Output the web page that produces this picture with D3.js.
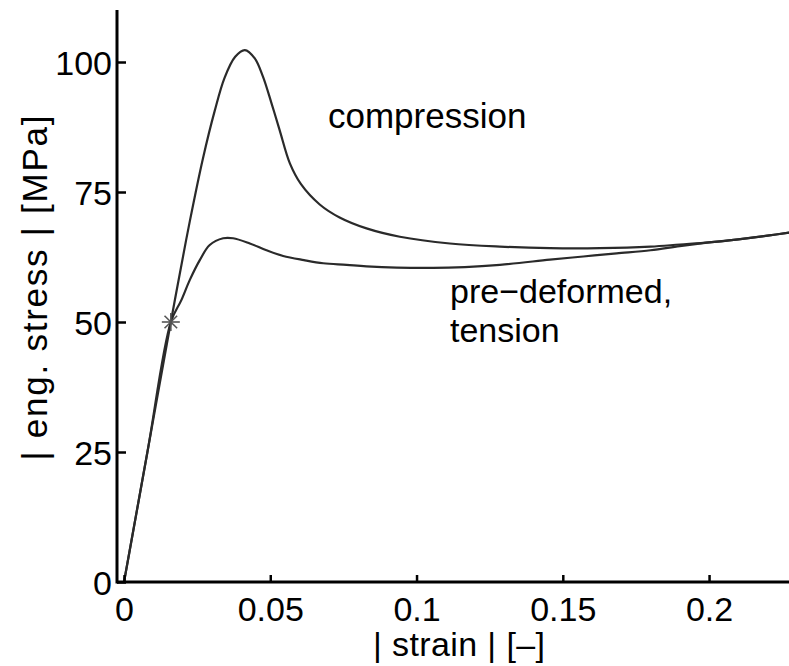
<!DOCTYPE html>
<html><head><meta charset="utf-8">
<script src="https://cdn.jsdelivr.net/npm/d3@7"></script>
<style>
html,body{margin:0;padding:0;background:#fff;}
svg{display:block;font-family:"Liberation Sans",Arial,Helvetica,sans-serif;}
</style></head>
<body><svg id="chart" width="789" height="666"></svg>
<script>
// strain values and engineering stress [MPa]
const compressionStrain = [0, 0.008, 0.016, 0.0185, 0.0225, 0.027, 0.031, 0.0344, 0.038, 0.0413, 0.0447, 0.0475, 0.0504, 0.0532, 0.0567, 0.0605, 0.0669, 0.0737, 0.0829, 0.0943, 0.1114, 0.1285, 0.1456, 0.1627, 0.18, 0.19, 0.2, 0.21, 0.22, 0.2275];
const compressionStress = [0, 25, 50, 57.6, 69.4, 81.5, 90.6, 97.0, 101.0, 102.3, 100.7, 97.2, 92.1, 86.9, 80.5, 76.5, 72.6, 70.1, 68.0, 66.4, 65.1, 64.5, 64.2, 64.2, 64.5, 64.9, 65.3, 65.9, 66.6, 67.2];
const tensionStrain = [0, 0.008, 0.016, 0.0196, 0.0225, 0.0259, 0.0293, 0.0339, 0.0373, 0.043, 0.0487, 0.0544, 0.0615, 0.0681, 0.0761, 0.0829, 0.1057, 0.1285, 0.1456, 0.157, 0.1684, 0.18, 0.19, 0.2, 0.21, 0.22, 0.2275];
const tensionStress = [0, 25, 50, 54.2, 58.1, 61.9, 64.8, 66.1, 66.1, 65.1, 63.8, 62.7, 61.9, 61.3, 61.0, 60.7, 60.4, 61.0, 62.0, 62.6, 63.2, 63.8, 64.6, 65.3, 65.9, 66.6, 67.2];
const markerStrain = [0.016];
const markerStress = [50];
const xTicks = [0, 0.05, 0.1, 0.15, 0.2];
const xTickLabels = ["0", "0.05", "0.1", "0.15", "0.2"];
const yTicks = [0, 25, 50, 75, 100];
const yTickLabels = ["0", "25", "50", "75", "100"];
const xDomain = [-0.0024, 0.2275];
const yDomain = [0, 110];

const svg = d3.select("#chart");
const x = d3.scaleLinear().domain(xDomain).range([117, 789.5]);
const y = d3.scaleLinear().domain(yDomain).range([582, 10]);
const FS = 34;

// curves
const line = d3.line().x(d => x(d[0])).y(d => y(d[1])).curve(d3.curveCatmullRom.alpha(0.5));
const comp = compressionStrain.map((s, i) => [s, compressionStress[i]]);
const tens = tensionStrain.map((s, i) => [s, tensionStress[i]]);
[comp, tens].forEach(data => {
  svg.append("path").datum(data).attr("d", line)
    .attr("fill", "none").attr("stroke", "#2a2a2a").attr("stroke-width", 2.2);
});

// asterisk marker
markerStrain.forEach((s, i) => {
  const cx = x(s), cy = y(markerStress[i]), r = 9;
  const g = svg.append("g").attr("stroke", "#555").attr("stroke-width", 1.6);
  [[-r,0,r,0],[0,-r,0,r],[-r*0.7,-r*0.7,r*0.7,r*0.7],[-r*0.7,r*0.7,r*0.7,-r*0.7]].forEach(l => {
    g.append("line").attr("x1", cx+l[0]).attr("y1", cy+l[1]).attr("x2", cx+l[2]).attr("y2", cy+l[3]);
  });
});

// axes
const xAxis = d3.axisBottom(x).tickValues(xTicks).tickFormat((d, i) => xTickLabels[i])
  .tickSizeInner(-7).tickSizeOuter(0).tickPadding(15);
const yAxis = d3.axisLeft(y).tickValues(yTicks).tickFormat((d, i) => yTickLabels[i])
  .tickSizeInner(-9).tickSizeOuter(0).tickPadding(5);

const gx = svg.append("g").attr("transform", "translate(0,582)").call(xAxis);
const gy = svg.append("g").attr("transform", "translate(117,0)").call(yAxis);
[gx, gy].forEach(g => {
  g.select(".domain").attr("stroke", "#000").attr("stroke-width", 3);
  g.selectAll(".tick line").attr("stroke", "#000").attr("stroke-width", 2.5);
  g.selectAll(".tick text").attr("fill", "#000").attr("font-size", FS)
    .attr("font-family", "'Liberation Sans', Arial, sans-serif");
});
gx.select(".domain").attr("d", "M117,0H789");
gy.select(".domain").attr("d", "M0,10V583.5");
gy.selectAll(".tick text").attr("dy", "0.36em");

// axis titles
svg.append("text").attr("x", 459).attr("y", 656).attr("text-anchor", "middle")
  .attr("font-size", FS).attr("fill", "#000")
  .attr("textLength", 172).attr("lengthAdjust", "spacing").text("| strain | [–]");
svg.append("text").attr("transform", "translate(47,288) rotate(-90)").attr("text-anchor", "middle")
  .attr("font-size", 35).attr("fill", "#000")
  .attr("textLength", 345).attr("lengthAdjust", "spacing").text("| eng. stress | [MPa]");

// annotations
svg.append("text").attr("x", 328).attr("y", 128).attr("font-size", 35).attr("fill", "#000").text("compression");
const t = svg.append("text").attr("x", 450).attr("y", 303).attr("font-size", FS).attr("fill", "#000");
t.append("tspan").attr("x", 450).text("pre−deformed,");
t.append("tspan").attr("x", 450).attr("y", 342).text("tension");
</script></body></html>
